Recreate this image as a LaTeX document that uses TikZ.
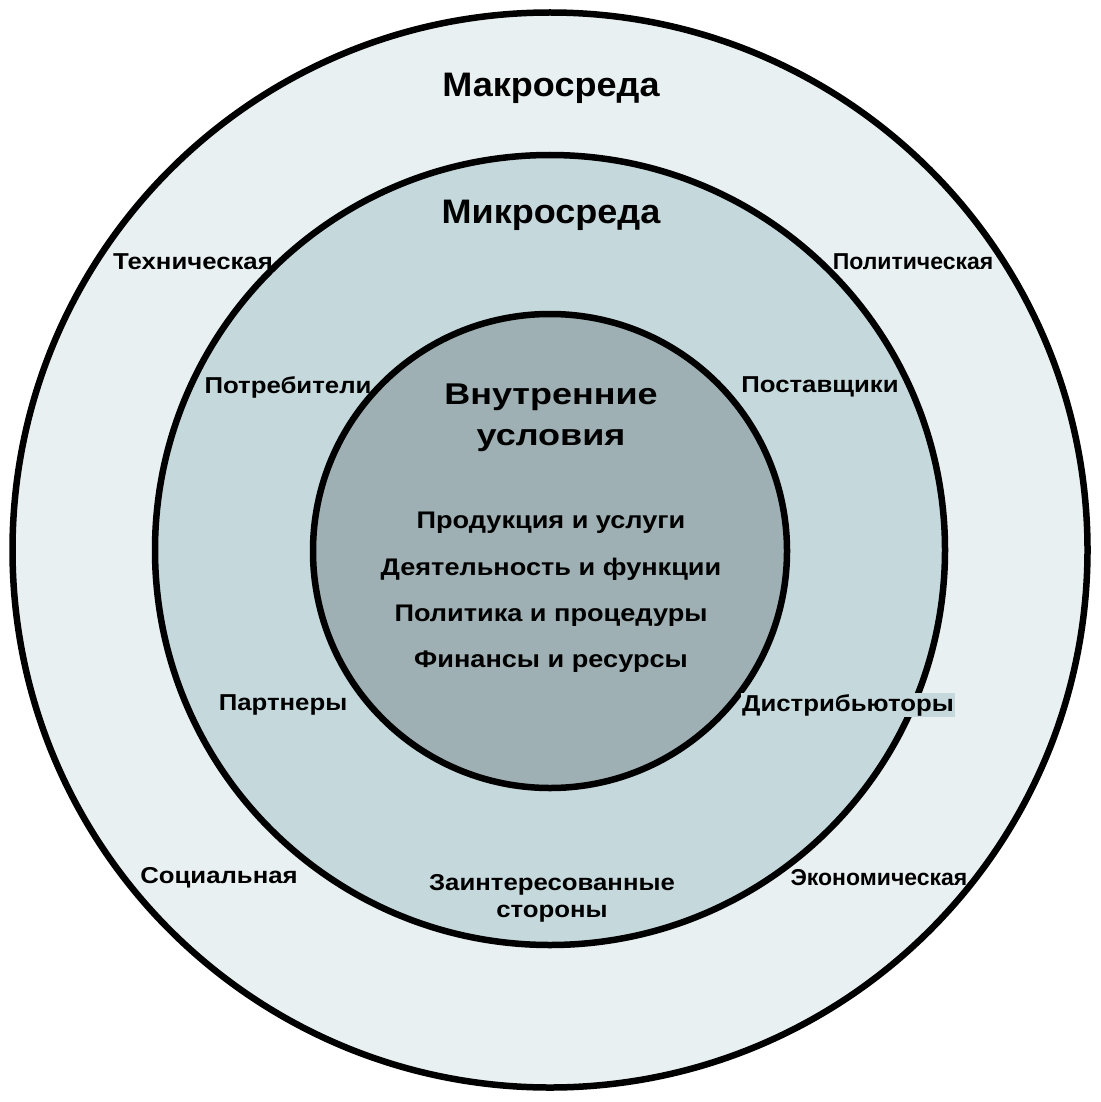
\documentclass[tikz,border=0pt]{standalone}
\usepackage{fontspec}
\setmainfont{Liberation Sans}
\newfontfamily\fA[FakeStretch=1.12]{Liberation Sans}
\newfontfamily\fB[FakeStretch=1.13]{Liberation Sans}
\newfontfamily\fC[FakeStretch=1.2]{Liberation Sans}
\newfontfamily\fD[FakeStretch=1.06]{Liberation Sans}
\definecolor{macroC}{HTML}{E9F0F2}
\definecolor{microC}{HTML}{C5D8DC}
\definecolor{innerC}{HTML}{9EB0B3}
\begin{document}
\begin{tikzpicture}[x=1pt,y=-1pt,
  ring/.style={draw=black,line width=6.5pt},
  big/.style={font=\fD\bfseries\fontsize{34}{38}\selectfont,inner sep=0pt},
  mid/.style={font=\fC\bfseries\fontsize{30}{41}\selectfont,inner sep=0pt,align=center},
  lbl/.style={font=\fA\bfseries\fontsize{23}{28}\selectfont,inner sep=0pt,align=center},
  plain/.style={font=\bfseries\fontsize{23}{28}\selectfont,inner sep=0pt},
  lst/.style={font=\fB\bfseries\fontsize{24}{28}\selectfont,inner sep=0pt}]
\useasboundingbox (0,0) rectangle (1100,1102);
\fill[white] (0,0) rectangle (1100,1102);
\draw[ring,fill=macroC] (550,550) circle (537.5);
\draw[ring,fill=microC] (550,550) circle (395);
\draw[ring,fill=innerC] (550,551) circle (237);
\node[big] (macro) at (551,88) {Макросреда};
\node[big] (micro) at (551,215) {Микросреда};
\node[lbl] (tech) at (193,262) {Техническая};
\node[plain] (pol) at (913,262) {Политическая};
\node[lbl] (cons) at (288,387) {Потребители};
\node[lbl] (supp) at (820,387) {Поставщики};
\node[mid] (inner) at (551,418) {Внутренние\\условия};
\node[lst] (prod) at (551,523) {Продукция и услуги};
\node[lst] (act) at (551,569) {Деятельность и функции};
\node[lst] (polc) at (551,616) {Политика и процедуры};
\node[lst] (fin) at (551,662) {Финансы и ресурсы};
\node[lbl] (part) at (283,705) {Партнеры};
\node[lbl,fill=microC,inner sep=1pt] (dist) at (848,705) {Дистрибьюторы};
\node[lbl] (soc) at (219,878) {Социальная};
\node[lbl] (stake) at (552,898) {Заинтересованные\\[-1pt]стороны};
\node[plain] (econ) at (879,878) {Экономическая};
\end{tikzpicture}
\end{document}
